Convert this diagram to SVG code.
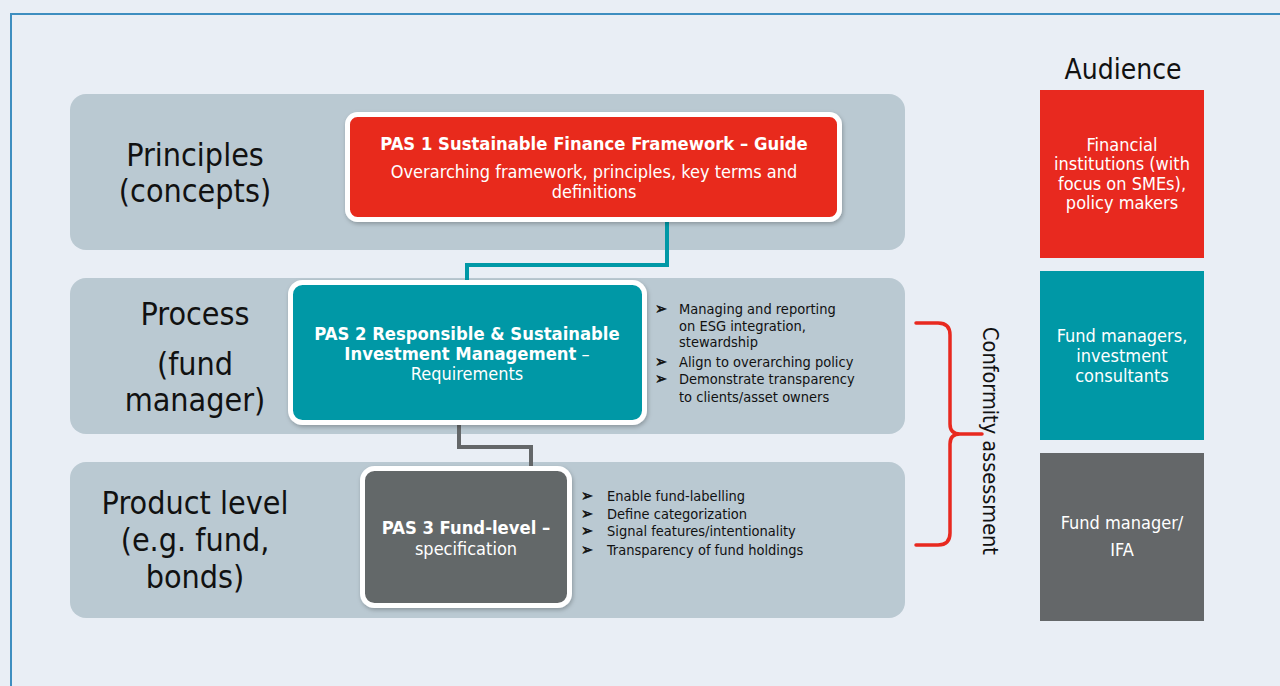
<svg xmlns="http://www.w3.org/2000/svg" width="1280" height="686" viewBox="0 0 1280 686">
<defs>
<style>
.f{font-family:"DejaVu Sans Condensed","DejaVu Sans",Verdana,sans-serif;font-stretch:condensed}
.band{fill:#BAC9D2}
.lbl{font-size:32px;fill:#111;text-anchor:middle}
.nw{fill:#fff;text-anchor:middle;font-size:18px}
.b{font-weight:bold;font-size:18.3px}
.bul{font-size:14.5px;fill:#111}
.arr{font-size:16px;stroke:#111;stroke-width:0.5}
.aud{font-size:18px;fill:#fff;text-anchor:middle}
.card{stroke:#fff;stroke-width:5}
.conn{fill:none;stroke-width:4}
</style>
<filter id="sh" x="-5%" y="-5%" width="110%" height="115%">
<feDropShadow dx="1" dy="2" stdDeviation="2" flood-color="#000" flood-opacity="0.25"/>
</filter>
</defs>
<rect x="0" y="0" width="1280" height="686" fill="#E9EEF5"/>
<rect x="11" y="14" width="1300" height="700" fill="none" stroke="#3E8EC0" stroke-width="2"/>

<g id="bands">
<rect class="band" x="70" y="94" width="835" height="156" rx="16"/>
<rect class="band" x="70" y="278" width="835" height="156" rx="16"/>
<rect class="band" x="70" y="462" width="835" height="156" rx="16"/>
</g>

<g id="level-labels" class="f">
<text class="lbl" x="195" y="166">Principles</text>
<text class="lbl" x="195" y="202">(concepts)</text>
<text class="lbl" x="195" y="325">Process</text>
<text class="lbl" x="195" y="375">(fund</text>
<text class="lbl" x="195" y="411">manager)</text>
<text class="lbl" x="195" y="514">Product level</text>
<text class="lbl" x="195" y="551">(e.g. fund,</text>
<text class="lbl" x="195" y="588">bonds)</text>
</g>

<g id="connectors">
<path class="conn" stroke="#0098A6" d="M667 220 V265 H467 V282"/>
<path class="conn" stroke="#646769" d="M459 423 V447 H531 V468"/>
</g>

<g id="pas1" class="f">
<rect class="card" x="347.5" y="114.5" width="492" height="105" rx="10" fill="#E8291F" filter="url(#sh)"/>
<text class="nw b" x="594" y="150">PAS 1 Sustainable Finance Framework – Guide</text>
<text class="nw" x="594" y="178">Overarching framework, principles, key terms and</text>
<text class="nw" x="594" y="198">definitions</text>
</g>

<g id="pas2" class="f">
<rect class="card" x="290.5" y="282.5" width="354" height="140" rx="12" fill="#0098A6" filter="url(#sh)"/>
<text class="nw b" x="467" y="340">PAS 2 Responsible &amp; Sustainable</text>
<text class="nw" x="467" y="360"><tspan class="b">Investment Management</tspan> –</text>
<text class="nw" x="467" y="380">Requirements</text>
</g>
<g id="pas2-bullets" class="f bul">
<text class="arr" x="655" y="314">➢</text><text x="679" y="314">Managing and reporting</text>
<text x="679" y="331">on ESG integration,</text>
<text x="679" y="347">stewardship</text>
<text class="arr" x="655" y="367">➢</text><text x="679" y="367">Align to overarching policy</text>
<text class="arr" x="655" y="384">➢</text><text x="679" y="384">Demonstrate transparency</text>
<text x="679" y="402">to clients/asset owners</text>
</g>

<g id="pas3" class="f">
<rect class="card" x="362.5" y="468.5" width="207" height="137" rx="12" fill="#646769" filter="url(#sh)"/>
<text class="nw b" x="466" y="534">PAS 3 Fund-level –</text>
<text class="nw" x="466" y="555">specification</text>
</g>
<g id="pas3-bullets" class="f bul">
<text class="arr" x="581" y="501">➢</text><text x="607" y="501">Enable fund-labelling</text>
<text class="arr" x="581" y="519">➢</text><text x="607" y="519">Define categorization</text>
<text class="arr" x="581" y="536">➢</text><text x="607" y="536">Signal features/intentionality</text>
<text class="arr" x="581" y="555">➢</text><text x="607" y="555">Transparency of fund holdings</text>
</g>

<g id="conformity">
<path d="M916 323 H938 Q950 323 950 335 V424 Q950 434 960 434 H982 M950 444 Q950 434 960 434 M950 444 V533 Q950 545 938 545 H916" fill="none" stroke="#E8291F" stroke-width="3.5" stroke-linecap="round" stroke-linejoin="round"/>
<text class="f" transform="translate(983 441) rotate(90)" text-anchor="middle" font-size="21.5" fill="#111">Conformity assessment</text>
</g>

<g id="audience" class="f">
<text x="1123" y="79" text-anchor="middle" font-size="28" fill="#111">Audience</text>
<rect x="1040" y="90" width="164" height="168" fill="#E8291F"/>
<text class="aud" x="1122" y="151">Financial</text>
<text class="aud" x="1122" y="170">institutions (with</text>
<text class="aud" x="1122" y="190">focus on SMEs),</text>
<text class="aud" x="1122" y="209">policy makers</text>
<rect x="1040" y="271" width="164" height="169" fill="#0098A6"/>
<text class="aud" x="1122" y="342">Fund managers,</text>
<text class="aud" x="1122" y="362">investment</text>
<text class="aud" x="1122" y="382">consultants</text>
<rect x="1040" y="453" width="164" height="168" fill="#646769"/>
<text class="aud" x="1122" y="529">Fund manager/</text>
<text class="aud" x="1122" y="556">IFA</text>
</g>
</svg>
